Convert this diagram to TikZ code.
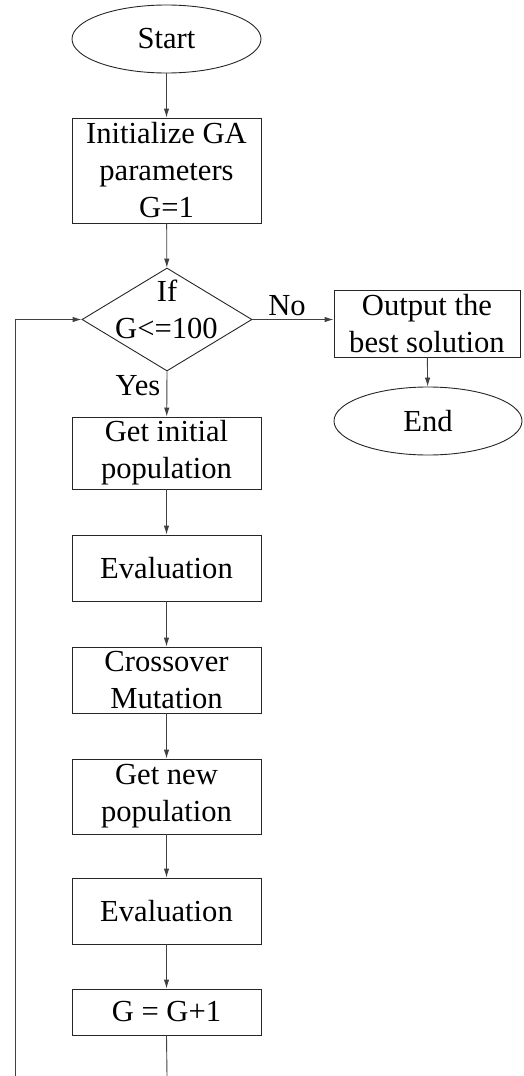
\documentclass[tikz,border=0pt]{standalone}
\usepackage{fontspec}
\setmainfont{Liberation Serif}
\usetikzlibrary{shapes.geometric,arrows.meta}
\begin{document}
\begin{tikzpicture}[x=1pt,y=-1pt,
  every node/.style={font=\fontsize{30.6}{37}\selectfont, inner sep=0pt, text=black},
  box/.style={draw=black!85, line width=0.9pt, rectangle, minimum width=189pt, align=center},
  term/.style={draw=black!85, line width=0.9pt, ellipse, minimum width=189pt, minimum height=68pt},
  conn/.style={draw=black!75, line width=0.9pt},
  arr/.style={conn, -{Latex[length=9pt,width=5.5pt]}},
  lbl/.style={anchor=base}
]
\useasboundingbox (0,0) rectangle (523,1076);
\node[term] (start) at (166.5,39) {Start};
\node[box, minimum height=105pt] (init) at (166.5,170.5) {Initialize GA\\parameters\\G=1};
\node[diamond, draw=black!85, line width=0.9pt, minimum width=170pt, minimum height=103pt] (dia) at (167,319.5) {};
\node[lbl] (if) at (167,301) {If};
\node[lbl] (cond) at (166.5,338) {G<=100};
\node[box, minimum width=186pt, minimum height=67pt] (out) at (427,323.5) {Output the\\best solution};
\node[term, minimum width=188pt] (end) at (428,421) {End};
\node[box, minimum height=72pt] (gi) at (166.5,453) {Get initial\\population};
\node[box, minimum height=66pt] (ev1) at (166.5,568) {Evaluation};
\node[box, minimum height=66pt] (cm) at (166.5,680) {Crossover\\Mutation};
\node[box, minimum height=75pt] (gn) at (166.5,796.5) {Get new\\population};
\node[box, minimum height=66pt] (ev2) at (166.5,911) {Evaluation};
\node[box, minimum height=46pt] (gg) at (166.5,1012) {G = G+1};
\node[lbl] (no) at (287,315) {No};
\node[lbl] (yes) at (138,395) {Yes};
\coordinate (bb) at (167,1076);
\coordinate (bl) at (15,1076);
\draw[arr] (start) -- (init);
\draw[arr] (init) -- (dia);
\draw[arr] (dia.east) -- (dia.east -| out.west);
\draw[arr] (out) -- (end);
\draw[arr] (dia.south) -- (gi);
\draw[arr] (gi) -- (ev1);
\draw[arr] (ev1) -- (cm);
\draw[arr] (cm) -- (gn);
\draw[arr] (gn) -- (ev2);
\draw[arr] (ev2) -- (gg);
\draw[conn] (gg.south) -- (bb);
\draw[arr] (bl) |- (dia.west);
\end{tikzpicture}
\end{document}
